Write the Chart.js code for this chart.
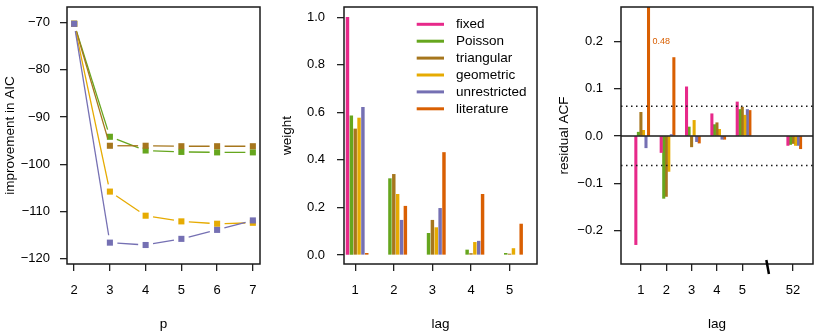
<!DOCTYPE html>
<html>
<head>
<meta charset="utf-8">
<script src="https://cdn.jsdelivr.net/npm/chart.js@4.4.0/dist/chart.umd.min.js"></script>
<style>
  html, body { margin: 0; padding: 0; background: #fff; }
  #wrap { display: flex; width: 830px; height: 332px; }
  canvas { display: block; }
</style>
</head>
<body>
<div id="wrap">
  <canvas id="aic" width="277" height="332"></canvas>
  <canvas id="weights" width="277" height="332"></canvas>
  <canvas id="acf" width="276" height="332"></canvas>
</div>
<script>
// series colours (Dark2)
const seriesNames = ['fixed', 'Poisson', 'triangular', 'geometric', 'unrestricted', 'literature'];
const seriesColors = ['#E7298A', '#66A61E', '#A6761D', '#E6AB02', '#7570B3', '#D95F02'];

// left panel: improvement in AIC vs p
const pValues = [2, 3, 4, 5, 6, 7];
const aicPoisson = [-70.3, -94.2, -97.1, -97.4, -97.5, -97.5];
const aicTriangular = [-70.3, -96.1, -96.1, -96.2, -96.2, -96.2];
const aicGeometric = [-70.3, -105.8, -110.9, -112.1, -112.6, -112.4];
const aicUnrestricted = [-70.3, -116.6, -117.1, -115.8, -113.9, -111.9];
const aicTicks = [-120, -110, -100, -90, -80, -70];

// middle panel: lag weights
const weightLags = [1, 2, 3, 4, 5];
const wFixed = [1.0, 0, 0, 0, 0];
const wPoisson = [0.585, 0.321, 0.091, 0.021, 0.007];
const wTriangular = [0.530, 0.339, 0.146, 0.006, 0.004];
const wGeometric = [0.576, 0.255, 0.115, 0.053, 0.027];
const wUnrestricted = [0.621, 0.146, 0.196, 0.058, 0];
const wLiterature = [0.007, 0.205, 0.431, 0.255, 0.130];
const weightTicks = [0, 0.2, 0.4, 0.6, 0.8, 1.0];

// right panel: residual ACF
const acfLags = [1, 2, 3, 4, 5, 52];
const acfFixed = [-0.230, -0.035, 0.104, 0.047, 0.072, -0.020];
const acfPoisson = [0.008, -0.132, 0.019, 0.024, 0.056, -0.018];
const acfTriangular = [0.050, -0.128, -0.023, 0.028, 0.061, -0.016];
const acfGeometric = [0.012, -0.075, 0.033, 0.014, 0.044, -0.020];
const acfUnrestricted = [-0.025, 0.003, -0.012, -0.007, 0.056, -0.020];
const acfLiterature = [0.48, 0.166, -0.015, -0.007, 0.054, -0.027];
const acfTicks = [-0.2, -0.1, 0, 0.1, 0.2];
const acfBand = 0.0627;

// bars of one lag sit side by side, 0.1 apart
const barOffsets = [-0.2, -0.1, 0, 0.1, 0.2, 0.3];
// axis break: lag 52 is drawn in slot 7, break mark at 6
const acfAxisPos = lag => (lag > 5 ? 7 : lag);

const FONT = 'Liberation Sans, Arial, Helvetica, sans-serif';
Chart.defaults.font.family = FONT;
Chart.defaults.color = '#000';

const minus = s => s.replace('-', '\u2212');

function xScale(min, max, ticks, label, title) {
  return {
    type: 'linear', position: 'bottom', min, max, offset: false,
    afterBuildTicks: s => { s.ticks = ticks.map(v => ({ value: v })); },
    afterFit: s => { s.height = 68; s.paddingLeft = 0; s.paddingRight = 0; },
    grid: { drawOnChartArea: false, drawTicks: true, tickLength: 7, color: '#222', lineWidth: 1.3, offset: false },
    border: { display: false },
    ticks: { color: '#000', font: { size: 13 }, padding: 12, maxRotation: 0, autoSkip: false, callback: label },
    title: { display: true, text: title, color: '#000', font: { size: 13.5 }, padding: { top: 0, bottom: 0 } }
  };
}

function yScale(min, max, ticks, label, title, pad) {
  return {
    type: 'linear', position: 'left', min, max,
    afterBuildTicks: s => { s.ticks = ticks.map(v => ({ value: v })); },
    afterFit: s => { s.width = 67; s.paddingTop = 0; s.paddingBottom = 0; },
    grid: { drawOnChartArea: false, drawTicks: true, tickLength: 7, color: '#222', lineWidth: 1.3 },
    border: { display: false },
    ticks: { color: '#000', font: { size: 13 }, padding: pad, callback: label },
    title: { display: true, text: title, color: '#000', font: { size: 13.5 }, padding: { top: 2, bottom: 0 } }
  };
}

const boxPlugin = {
  id: 'box',
  afterDraw(chart) {
    const { ctx, chartArea: a } = chart;
    ctx.save();
    ctx.strokeStyle = '#1a1a1a';
    ctx.lineWidth = 1.5;
    ctx.strokeRect(a.left, a.top, a.right - a.left, a.bottom - a.top);
    ctx.restore();
  }
};

const baseOptions = {
  responsive: false,
  animation: false,
  events: [],
  layout: { padding: { left: 0, right: 17, top: 7, bottom: 0 } },
  plugins: { legend: { display: false }, tooltip: { enabled: false } }
};

// zero-height bars are left out instead of drawn as a sliver
const barPoint = (x, v) => ({ x, y: v === 0 ? null : v });

// ---- left panel ----
// lines stop short of each square, like R's type = "b"
const gapDash = ctx => {
  const L = Math.hypot(ctx.p1.x - ctx.p0.x, ctx.p1.y - ctx.p0.y);
  const g = 7.5;
  return L > 2 * g ? [0, g, L - 2 * g, g] : [0, L];
};

const aicSeries = [
  [aicPoisson, 1], [aicTriangular, 2], [aicGeometric, 3], [aicUnrestricted, 4]
];

new Chart(document.getElementById('aic'), {
  type: 'line',
  data: {
    datasets: aicSeries.map(([vals, ci], k) => ({
      label: seriesNames[ci],
      data: pValues.map((p, i) => ({ x: p, y: vals[i] })),
      borderColor: seriesColors[ci],
      backgroundColor: seriesColors[ci],
      borderWidth: 1.3,
      pointStyle: 'rect',
      pointRadius: 4.3,
      pointBorderWidth: 0,
      order: aicSeries.length - k,
      segment: { borderDash: gapDash }
    }))
  },
  options: {
    ...baseOptions,
    scales: {
      x: xScale(1.8, 7.2, pValues, v => String(v), 'p'),
      y: yScale(-121.12, -66.74, aicTicks, v => minus(String(v)), 'improvement in AIC', 10)
    }
  },
  plugins: [boxPlugin]
});

// ---- middle panel ----
const weightSeries = [wFixed, wPoisson, wTriangular, wGeometric, wUnrestricted, wLiterature];

const legendPlugin = {
  id: 'lagLegend',
  afterDraw(chart) {
    const { ctx } = chart;
    ctx.save();
    ctx.font = '13.5px ' + FONT;
    ctx.textBaseline = 'middle';
    ctx.textAlign = 'left';
    seriesNames.forEach((name, i) => {
      const y = 24.3 + i * 16.9;
      ctx.strokeStyle = seriesColors[i];
      ctx.lineWidth = 3;
      ctx.beginPath();
      ctx.moveTo(139.7, y);
      ctx.lineTo(167, y);
      ctx.stroke();
      ctx.fillStyle = '#000';
      ctx.fillText(name, 179, y);
    });
    ctx.restore();
  }
};

new Chart(document.getElementById('weights'), {
  type: 'bar',
  data: {
    datasets: weightSeries.map((vals, s) => ({
      label: seriesNames[s],
      data: weightLags.map((l, i) => barPoint(l + barOffsets[s], vals[i])),
      backgroundColor: seriesColors[s],
      barThickness: 2.8,
      grouped: false
    }))
  },
  options: {
    ...baseOptions,
    scales: {
      x: xScale(0.71, 5.71, weightLags, v => String(v), 'lag'),
      y: yScale(-0.038, 1.043, weightTicks, v => v.toFixed(1), 'weight', 12)
    }
  },
  plugins: [boxPlugin, legendPlugin]
});

// ---- right panel ----
const acfSeries = [acfFixed, acfPoisson, acfTriangular, acfGeometric, acfUnrestricted, acfLiterature];

const acfGuides = {
  id: 'acfGuides',
  afterDatasetsDraw(chart) {
    const { ctx, chartArea: a, scales: { x, y } } = chart;
    ctx.save();
    ctx.strokeStyle = '#1a1a1a';
    // zero line
    ctx.lineWidth = 1.5;
    ctx.beginPath();
    ctx.moveTo(a.left, y.getPixelForValue(0));
    ctx.lineTo(a.right, y.getPixelForValue(0));
    ctx.stroke();
    // approximate 95% band
    ctx.setLineDash([1.5, 3.5]);
    ctx.lineWidth = 1.5;
    [acfBand, -acfBand].forEach(v => {
      ctx.beginPath();
      ctx.moveTo(a.left, y.getPixelForValue(v));
      ctx.lineTo(a.right, y.getPixelForValue(v));
      ctx.stroke();
    });
    ctx.setLineDash([]);
    // clipped bar value
    const top = acfLiterature[0];
    ctx.fillStyle = seriesColors[5];
    ctx.font = '9px ' + FONT;
    ctx.textAlign = 'left';
    ctx.textBaseline = 'middle';
    ctx.fillText(top.toFixed(2), x.getPixelForValue(acfAxisPos(acfLags[0]) + barOffsets[5]) + 4, y.getPixelForValue(0.2));
    ctx.restore();
  },
  afterDraw(chart) {
    const { ctx, chartArea: a, scales: { x } } = chart;
    const bx = x.getPixelForValue(6);
    ctx.save();
    ctx.strokeStyle = '#000';
    ctx.lineWidth = 2.5;
    ctx.beginPath();
    ctx.moveTo(bx - 1.3, a.bottom - 4);
    ctx.lineTo(bx + 1.3, a.bottom + 10);
    ctx.stroke();
    ctx.restore();
  }
};

new Chart(document.getElementById('acf'), {
  type: 'bar',
  data: {
    datasets: acfSeries.map((vals, s) => ({
      label: seriesNames[s],
      data: acfLags.map((l, i) => barPoint(acfAxisPos(l) + barOffsets[s], vals[i])),
      backgroundColor: seriesColors[s],
      barThickness: 2.4,
      grouped: false
    }))
  },
  options: {
    ...baseOptions,
    scales: {
      x: xScale(0.214, 7.79, acfLags.map(acfAxisPos), (v, i) => String(acfLags[i]), 'lag'),
      y: yScale(-0.271, 0.273, acfTicks, v => minus(v.toFixed(1)), 'residual ACF', 11)
    }
  },
  plugins: [boxPlugin, acfGuides]
});
</script>
</body>
</html>
